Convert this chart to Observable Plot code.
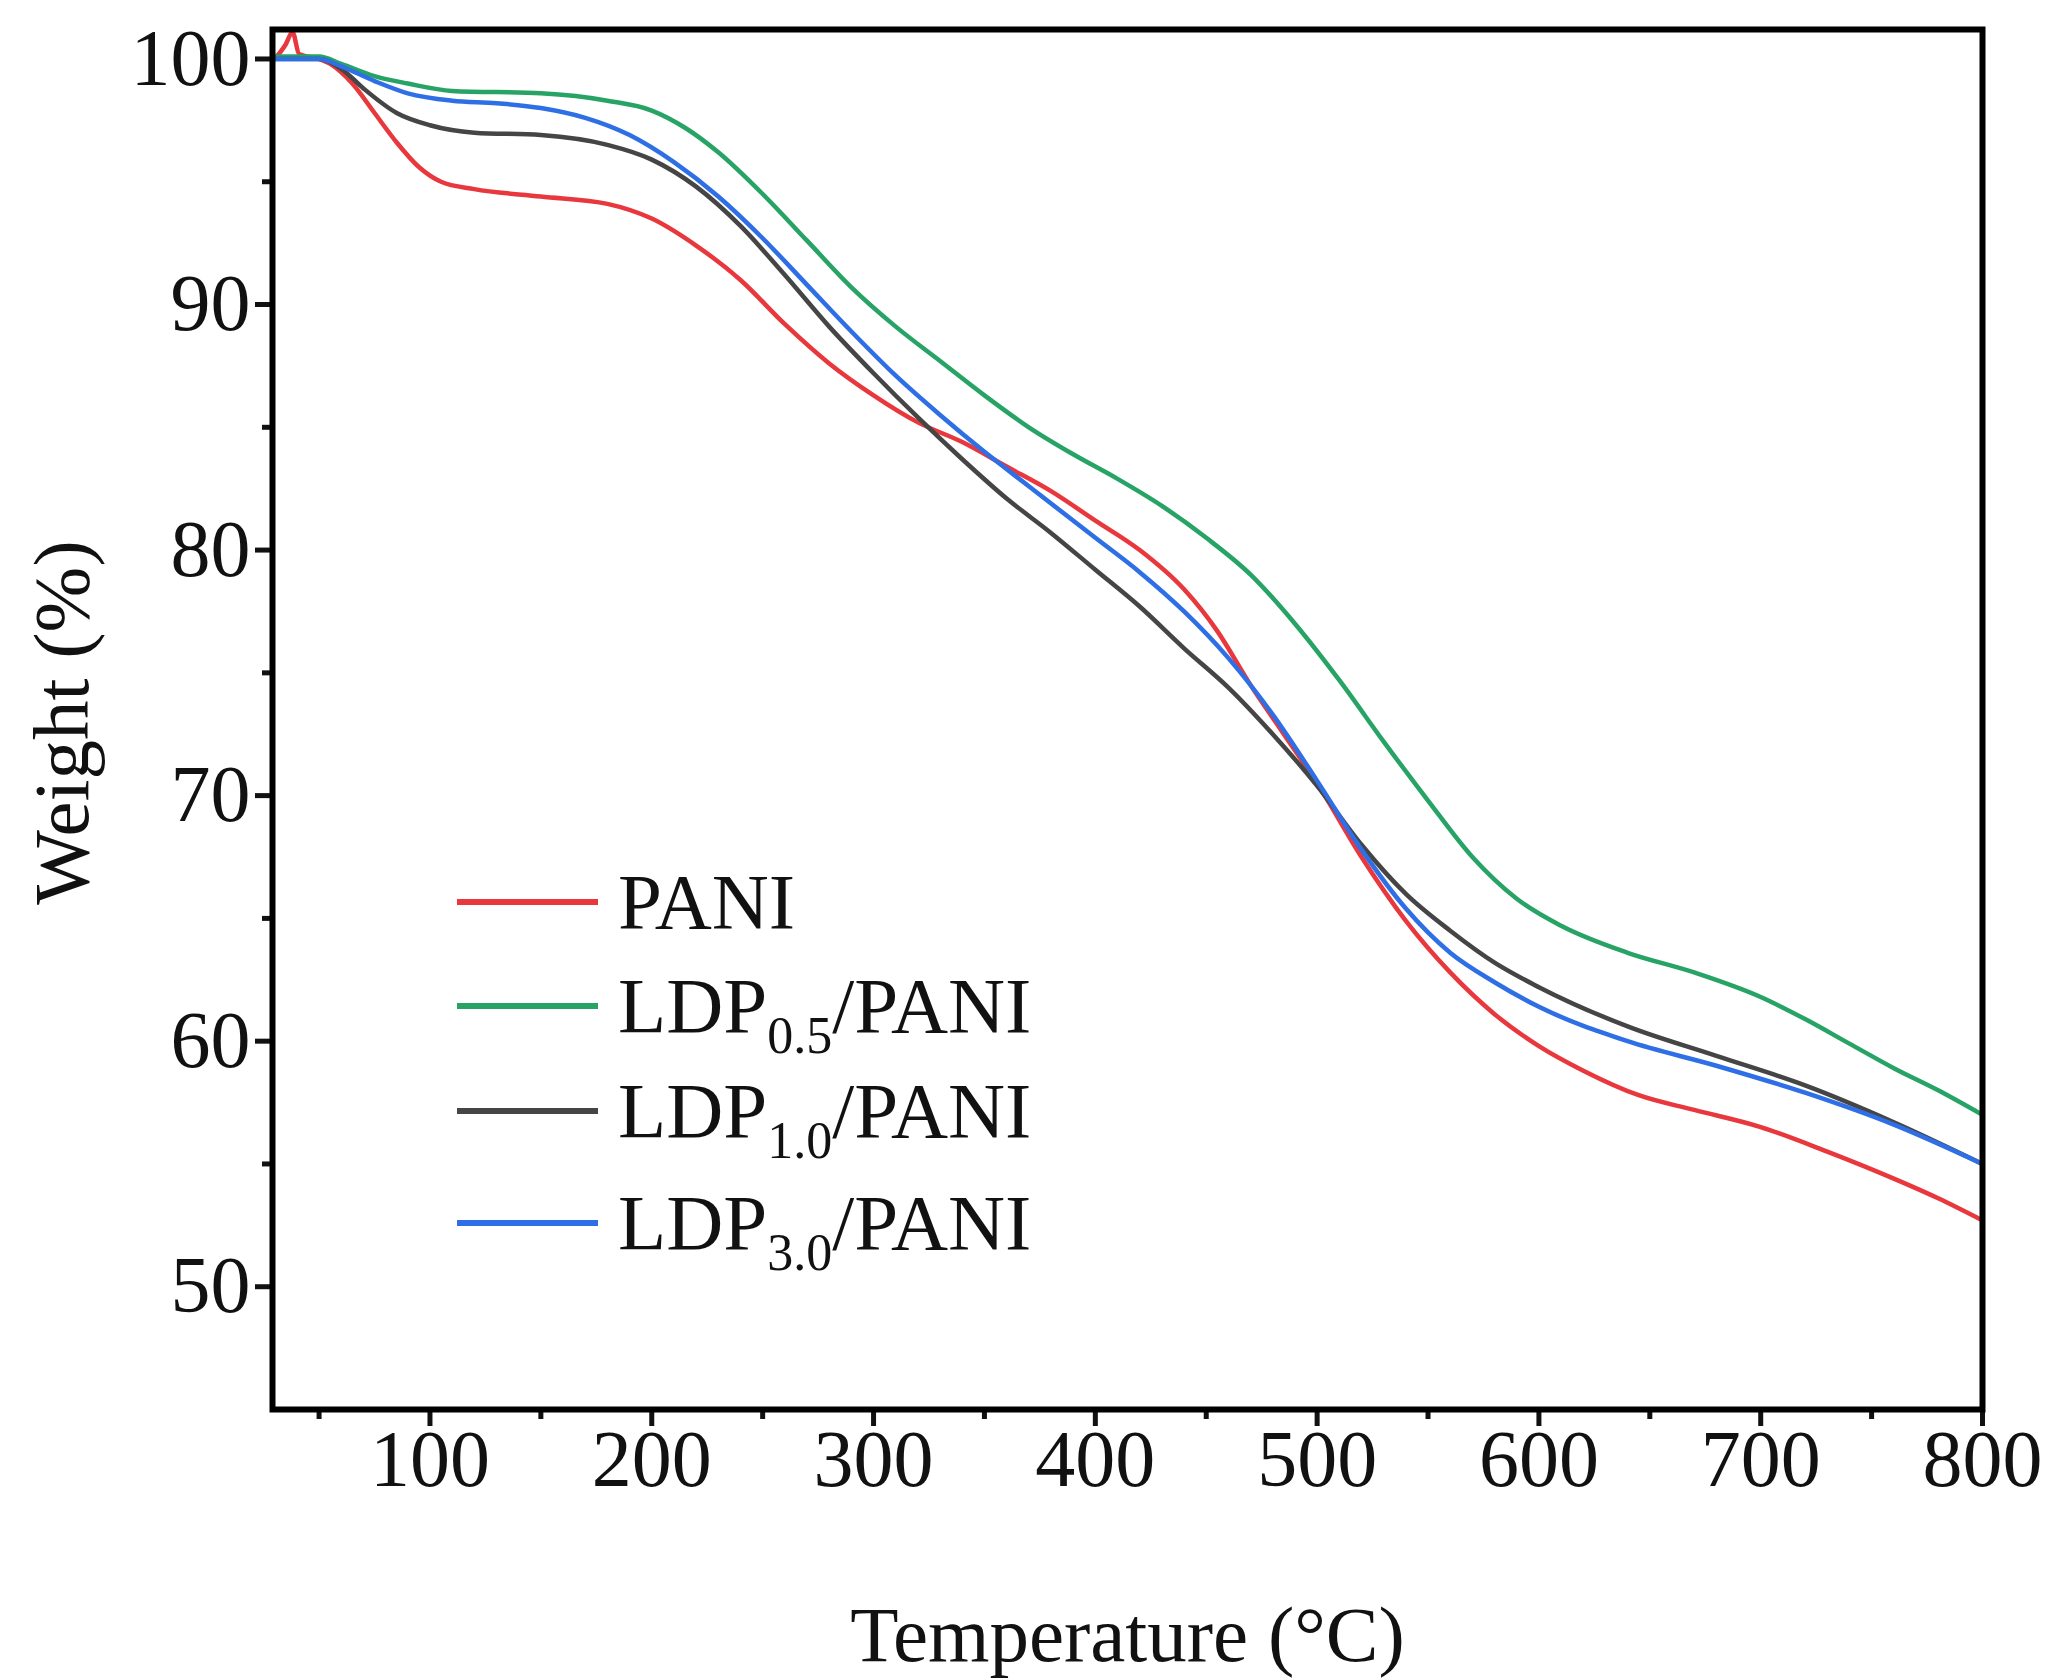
<!DOCTYPE html>
<html>
<head>
<meta charset="utf-8">
<script src="https://cdn.jsdelivr.net/npm/d3@7"></script>
<script src="https://cdn.jsdelivr.net/npm/@observablehq/plot@0.6"></script>
<style>
  html, body { margin: 0; background: #fff; overflow: hidden; }
  #chart { width: 2056px; height: 1679px; }
  #chart svg { display: block; }
</style>
</head>
<body>
<div id="chart"></div>
<script>
// TGA curves (temperature in °C, weight in %)
const pani = [
  [30, 100], [35, 100.6], [38, 101.1], [41, 100.2], [50, 100.0], [55, 99.8], [65, 99.0], [75, 97.8],
  [85, 96.6], [95, 95.6], [105, 95.0], [120, 94.7], [150, 94.4], [180, 94.1], [200, 93.5],
  [220, 92.4], [240, 91.0], [260, 89.2], [280, 87.6], [300, 86.3], [320, 85.2], [340, 84.4],
  [360, 83.4], [380, 82.4], [400, 81.2], [420, 80.0], [440, 78.4], [455, 76.7], [470, 74.5],
  [485, 72.5], [500, 70.5], [520, 67.5], [540, 64.9], [560, 62.8], [580, 61.1], [600, 59.8],
  [620, 58.8], [645, 57.8], [670, 57.2], [700, 56.5], [730, 55.5], [760, 54.4], [780, 53.6], [800, 52.7]
];
const ldp05 = [
  [30, 100.1], [50, 100.1], [60, 99.8], [75, 99.3], [90, 99.0], [110, 98.7], [150, 98.6],
  [180, 98.3], [200, 97.9], [215, 97.2], [230, 96.2], [250, 94.5], [270, 92.6], [290, 90.7],
  [310, 89.1], [330, 87.7], [350, 86.3], [370, 85.0], [390, 83.9], [410, 82.9], [430, 81.8],
  [450, 80.5], [470, 79.0], [490, 77.0], [510, 74.7], [530, 72.2], [550, 69.8], [570, 67.5],
  [590, 65.8], [610, 64.7], [640, 63.6], [670, 62.8], [700, 61.8], [720, 60.9], [740, 59.9],
  [760, 58.9], [780, 58.0], [800, 57.0]
];
const ldp10 = [
  [30, 100], [50, 100], [60, 99.6], [70, 98.8], [85, 97.8], [100, 97.3], [120, 97.0],
  [150, 96.9], [180, 96.5], [200, 95.9], [220, 94.8], [240, 93.2], [260, 91.2], [280, 89.1],
  [300, 87.2], [320, 85.4], [340, 83.7], [360, 82.1], [380, 80.7], [400, 79.2], [420, 77.7],
  [440, 76.0], [460, 74.4], [480, 72.5], [500, 70.4], [520, 68.0], [540, 66.0], [560, 64.5],
  [580, 63.2], [600, 62.2], [640, 60.6], [680, 59.4], [720, 58.2], [760, 56.7], [800, 55.0]
];
const ldp30 = [
  [30, 100], [50, 100], [60, 99.7], [75, 99.1], [90, 98.6], [110, 98.3], [130, 98.2],
  [150, 98.0], [170, 97.6], [190, 96.9], [210, 95.8], [230, 94.4], [250, 92.7], [270, 90.8],
  [290, 88.9], [310, 87.1], [330, 85.5], [350, 84.0], [370, 82.6], [400, 80.5], [420, 79.1],
  [440, 77.5], [460, 75.6], [480, 73.3], [500, 70.6], [520, 67.8], [540, 65.4], [560, 63.6],
  [580, 62.4], [600, 61.4], [640, 60.0], [680, 59.0], [720, 57.9], [760, 56.6], [800, 55.0]
];

const seriesNames = ["PANI", "LDP0.5/PANI", "LDP1.0/PANI", "LDP3.0/PANI"];
const seriesColors = ["#e8383d", "#27a465", "#454545", "#2f6fe6"];
// legend labels: [main, subscript, rest]
const legendParts = [["PANI", "", ""], ["LDP", "0.5", "/PANI"], ["LDP", "1.0", "/PANI"], ["LDP", "3.0", "/PANI"]];

const xMajor = [100, 200, 300, 400, 500, 600, 700, 800];
const xMinor = [50, 150, 250, 350, 450, 550, 650, 750];
const yMajor = [50, 60, 70, 80, 90, 100];
const yMinor = [55, 65, 75, 85, 95];

const rows = [pani, ldp05, ldp10, ldp30].flatMap((s, i) =>
  s.map(([t, w]) => ({series: seriesNames[i], T: t, W: w}))
);

const font = "Liberation Serif, Times New Roman, serif";
const W = 2056, H = 1679;
const mL = 272, mR = 74, mT = 29, mB = 270;

const plot = Plot.plot({
  width: W,
  height: H,
  marginLeft: mL,
  marginRight: mR,
  marginTop: mT,
  marginBottom: mB,
  style: {fontFamily: font, fontSize: "80px", color: "#111", background: "#fff"},
  x: {domain: [29, 800], label: null},
  y: {domain: [45, 101.2], label: null},
  color: {domain: seriesNames, range: seriesColors},
  marks: [
    Plot.line(rows, {x: "T", y: "W", z: "series", stroke: "series", strokeWidth: 4.5, curve: "monotone-x"}),
    Plot.axisX({ticks: xMajor, tickSize: 17, tickPadding: 3, strokeWidth: 5, fontSize: 80, label: null, stroke: "#111"}),
    Plot.axisX({ticks: xMinor, tickSize: 10, strokeWidth: 5, tickFormat: () => "", label: null, stroke: "#111"}),
    Plot.axisY({ticks: yMajor, tickSize: 17, tickPadding: 5, strokeWidth: 5, fontSize: 80, label: null, stroke: "#111"}),
    Plot.axisY({ticks: yMinor, tickSize: 10, strokeWidth: 5, tickFormat: () => "", label: null, stroke: "#111"}),
    Plot.frame({stroke: "#000", strokeWidth: 6}),
    Plot.text(["Temperature (°C)"], {frameAnchor: "bottom", dy: 251, lineAnchor: "bottom", fontSize: 79, fill: "#111"}),
    Plot.text(["Weight (%)"], {frameAnchor: "left", textAnchor: "middle", dx: -210, dy: 3, rotate: -90, fontSize: 79, fill: "#111"})
  ]
});

document.querySelector("#chart").append(plot);

// legend with subscripts, drawn inside the frame
const svg = d3.select(plot);
const leg = svg.append("g").attr("font-family", font).attr("fill", "#111").attr("text-anchor", "start");
const legY = [902, 1006, 1111, 1223];
legendParts.forEach((p, i) => {
  leg.append("line")
    .attr("x1", 457).attr("x2", 598)
    .attr("y1", legY[i]).attr("y2", legY[i])
    .attr("stroke", seriesColors[i]).attr("stroke-width", 6);
  const t = leg.append("text").attr("x", 618).attr("y", legY[i] + 26).attr("font-size", 79);
  t.append("tspan").text(p[0]);
  if (p[1]) {
    t.append("tspan").attr("font-size", 52).attr("dy", 21).text(p[1]);
    t.append("tspan").attr("dy", -21).text(p[2]);
  }
});
</script>
</body>
</html>
